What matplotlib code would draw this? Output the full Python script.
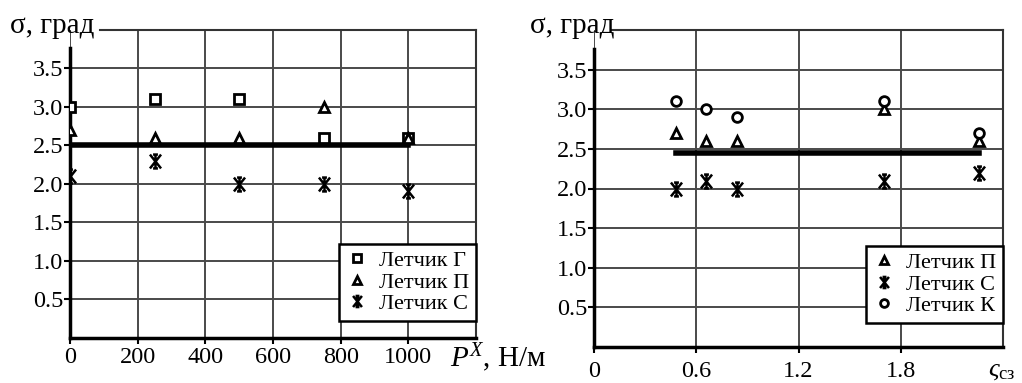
import matplotlib
matplotlib.use("Agg")
import matplotlib.pyplot as plt
from matplotlib.path import Path
import numpy as np

plt.rcParams['font.family'] = ['Liberation Serif', 'DejaVu Serif']
plt.rcParams['mathtext.fontset'] = 'custom'
plt.rcParams['mathtext.rm'] = 'Liberation Serif'
plt.rcParams['mathtext.it'] = 'Liberation Serif:italic'

# ---- data: left panel ----
px_load = [0, 250, 500, 750, 1000]
left_G = [3.0, 3.1, 3.1, 2.6, 2.6]
left_P = [2.7, 2.6, 2.6, 3.0, 2.6]
left_S = [2.1, 2.3, 2.0, 2.0, 1.9]
left_ref_x = [0, 1000]
left_ref_y = [2.5, 2.5]

# ---- data: right panel ----
zeta = [0.48, 0.66, 0.84, 1.70, 2.26]
right_P = [2.7, 2.6, 2.6, 3.0, 2.6]
right_S = [2.0, 2.1, 2.0, 2.1, 2.2]
right_K = [3.1, 3.0, 2.9, 3.1, 2.7]
right_ref_x = [0.48, 2.26]
right_ref_y = [2.45, 2.45]

left_xticks = [0, 200, 400, 600, 800, 1000]
left_xticklabels = ['0', '200', '400', '600', '800', '1000']
right_xticks = [0, 0.6, 1.2, 1.8]
right_xticklabels = ['0', '0.6', '1.2', '1.8']
yticks = [0.5, 1.0, 1.5, 2.0, 2.5, 3.0, 3.5]
yticklabels = ['0.5', '1.0', '1.5', '2.0', '2.5', '3.0', '3.5']

# custom "Ж"-like asterisk marker (X + vertical bar + short serifs)
verts = [(-0.8, -1), (0.8, 1), (-0.8, 1), (0.8, -1), (0, -1), (0, 1),
         (-0.35, 1), (0.35, 1), (-0.35, -1), (0.35, -1)]
codes = [Path.MOVETO, Path.LINETO] * 5
star = Path(verts, codes)

fig = plt.figure(figsize=(10.22, 3.83), dpi=100)
W, H = 1022, 383

def make_ax(l, r, t, b):
    return fig.add_axes([l / W, 1 - b / H, (r - l) / W, (b - t) / H])

ax1 = make_ax(70, 476, 30, 337.5)
ax2 = make_ax(594, 1003, 30, 347)

grid_col = '#4a4a4a'
mk = dict(linestyle='none', color='black', markersize=7, markeredgewidth=2.0,
          markerfacecolor='white')
mk_star = dict(linestyle='none', color='black', markersize=10,
               markeredgewidth=1.8, markerfacecolor='none')

def style(ax, xlim, xticks, xlabels, top_start, tickpad):
    ax.set_xlim(*xlim)
    ax.set_ylim(0, 4.0)
    ax.set_xticks(xticks)
    ax.set_xticklabels(xlabels)
    ax.set_yticks(yticks)
    ax.set_yticklabels(yticklabels)
    ax.tick_params(axis='both', labelsize=17.5, direction='out', length=4,
                   width=1.5, color='black')
    ax.tick_params(axis='x', pad=tickpad)
    ax.tick_params(axis='y', pad=1)
    ax.grid(True, color=grid_col, linewidth=1.4)
    ax.set_axisbelow(True)
    for s in ['left', 'bottom']:
        ax.spines[s].set_linewidth(2.5)
        ax.spines[s].set_color('black')
    ax.spines['left'].set_bounds(0, 3.76)
    ax.spines['top'].set_bounds(top_start, xlim[1])
    for s in ['top', 'right']:
        ax.spines[s].set_linewidth(1.5)
        ax.spines[s].set_color('#333333')

style(ax1, (0, 1200), left_xticks, left_xticklabels, 90, 3)
style(ax2, (0, 2.4), right_xticks, right_xticklabels, 0.105, 6)

# left panel
ax1.plot(left_ref_x, left_ref_y, color='black', linewidth=4, zorder=3)
ax1.plot(px_load, left_G, marker='s', label='Летчик Г', zorder=4, **mk)
ax1.plot(px_load, left_P, marker='^', label='Летчик П', zorder=4, **mk)
ax1.plot(px_load, left_S, marker=star, label='Летчик С', zorder=4, **mk_star)

# right panel
ax2.plot(right_ref_x, right_ref_y, color='black', linewidth=4, zorder=3)
ax2.plot(zeta, right_P, marker='^', label='Летчик П', zorder=4, **mk)
ax2.plot(zeta, right_S, marker=star, label='Летчик С', zorder=4, **mk_star)
ax2.plot(zeta, right_K, marker='o', label='Летчик К', zorder=4, **mk)

for ax, y0 in [(ax1, 0.054), (ax2, 0.076)]:
    leg = ax.legend(loc='lower right', bbox_to_anchor=(1.0, y0), fontsize=16,
                    frameon=True, fancybox=False, framealpha=1,
                    edgecolor='black', handlelength=1.0, handletextpad=0.5,
                    borderpad=0.3, labelspacing=0.05, borderaxespad=0,
                    markerscale=0.8)
    leg.get_frame().set_linewidth(1.8)

# axis titles
for x0 in (10, 530):
    fig.text(x0 / W, 1 - 33 / H, 'σ, град', fontsize=21, ha='left',
             va='baseline')
fig.text(450 / W, 1 - 367 / H, r'$P^{X}$, Н/м', fontsize=21, ha='left',
         va='baseline')
fig.text(988 / W, 1 - 376 / H, r'$\varsigma_{\rm сз}$', fontsize=19,
         ha='left', va='baseline')

fig.savefig('out.png', dpi=100)
